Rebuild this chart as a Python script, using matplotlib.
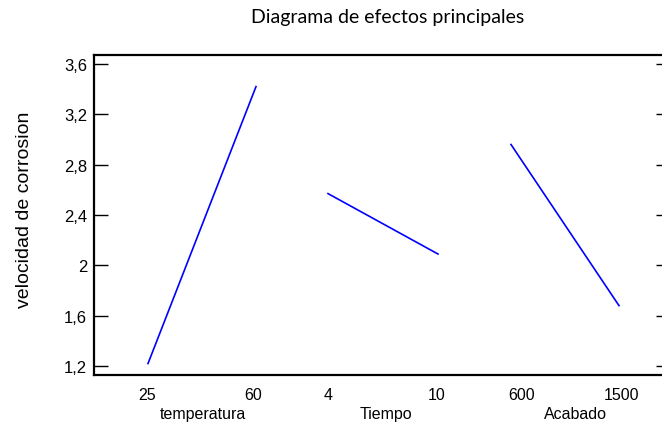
import matplotlib
matplotlib.use("Agg")
import matplotlib.pyplot as plt

# Data
factors = ["temperatura", "Tiempo", "Acabado"]
levels = [["25", "60"], ["4", "10"], ["600", "1500"]]
means = [[1.22, 3.42], [2.57, 2.09], [2.96, 1.68]]
yticks = [1.2, 1.6, 2.0, 2.4, 2.8, 3.2, 3.6]
ytick_labels = ["1,2", "1,6", "2", "2,4", "2,8", "3,2", "3,6"]

# Layout: x positions of each factor's two levels (pixel-like layout units)
xpos = [[148, 256], [328, 438], [511, 619]]
xlabpos = [[147, 253], [328, 437], [522, 622]]

fig = plt.figure(figsize=(6.62, 4.27), dpi=100)
ax = fig.add_axes([94/662, 51/427, 576/662, 320/427])
ax.set_xlim(94, 670)
ax.set_ylim(1.129, 3.671)

for xs, ys in zip(xpos, means):
    ax.plot(xs, ys, color="#0000ff", lw=1.2)

font = "Liberation Sans"
ax.set_yticks(yticks)
ax.set_yticklabels(ytick_labels, fontsize=12, family=font)
ax.tick_params(axis="y", direction="in", length=10, width=1, left=True, right=True, pad=5)

allx = [p for g in xlabpos for p in g]
alll = [l for g in levels for l in g]
ax.set_xticks(allx)
ax.set_xticklabels(alll, fontsize=11.5, family=font)
ax.tick_params(axis="x", length=0, pad=9)

for xs, name in zip(xlabpos, factors):
    ax.text((xs[0] + xs[1]) / 2 + 3, -0.12, name, transform=ax.get_xaxis_transform(),
            ha="center", va="center", fontsize=11.5, family=font)

for s in ["left", "bottom", "top"]:
    ax.spines[s].set_linewidth(1.6)
ax.spines["right"].set_visible(False)

fig.text(25/662, 1 - 210/427, "velocidad de corrosion", rotation=90, ha="center", va="center",
         fontsize=14, family=font)
fig.text(388/662, 1 - 18/427, "Diagrama de efectos principales", ha="center", va="center",
         fontsize=14, family="Lato")

fig.savefig("out.png", dpi=100)
